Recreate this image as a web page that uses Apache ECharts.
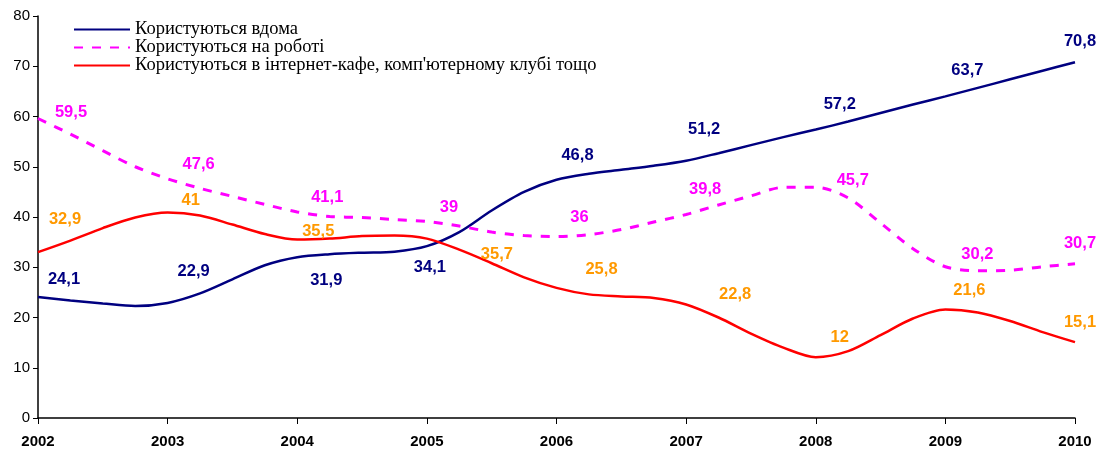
<!DOCTYPE html>
<html>
<head>
<meta charset="utf-8">
<script src="https://cdn.jsdelivr.net/npm/echarts@6/dist/echarts.min.js"></script>
<style>
  html, body { margin: 0; padding: 0; background: #fff; }
  #chart { width: 1097px; height: 450px; }
</style>
</head>
<body>
<div id="chart"></div>
<script>
// x positions of the points (quarters)
const quarters = [
  2002, 2002.25, 2002.5, 2002.75, 2003, 2003.25, 2003.5, 2003.75,
  2004, 2004.25, 2004.5, 2004.75, 2005, 2005.25, 2005.5, 2005.75,
  2006, 2006.25, 2006.5, 2006.75, 2007, 2007.25, 2007.5, 2007.75,
  2008, 2008.25, 2008.5, 2008.75, 2009, 2009.25, 2009.5, 2009.75, 2010
];
const homeUse = [
  24.1, 23.4, 22.8, 22.3, 22.9, 24.8, 27.6, 30.4,
  32.0, 32.6, 32.9, 33.1, 34.2, 37.0, 41.3, 45.0,
  47.4, 48.6, 49.4, 50.2, 51.2, 52.7, 54.3, 55.9,
  57.4, 59.0, 60.7, 62.4, 64.0, 65.7, 67.4, 69.1, 70.8
];
const workUse = [
  59.6, 56.5, 53.2, 50.0, 47.6, 45.7, 44.1, 42.5,
  41.0, 40.1, 39.9, 39.5, 39.1, 38.2, 37.0, 36.3,
  36.1, 36.5, 37.5, 39.0, 40.5, 42.4, 44.2, 45.9,
  45.9, 43.8, 38.8, 33.7, 30.1, 29.3, 29.4, 30.1, 30.7
];
const cafeUse = [
  33.0, 35.3, 37.8, 39.9, 40.9, 40.3, 38.5, 36.6,
  35.5, 35.7, 36.2, 36.3, 35.7, 33.5, 30.8, 28.0,
  25.9, 24.6, 24.2, 23.9, 22.6, 20.0, 16.8, 14.0,
  12.1, 13.3, 16.5, 19.8, 21.6, 21.0, 19.3, 17.1, 15.1
];

// value labels, one per year 2002..2010
const homeLabels = ['24,1', '22,9', '31,9', '34,1', '46,8', '51,2', '57,2', '63,7', '70,8'];
const workLabels = ['59,5', '47,6', '41,1', '39', '36', '39,8', '45,7', '30,2', '30,7'];
const cafeLabels = ['32,9', '41', '35,5', '35,7', '25,8', '22,8', '12', '21,6', '15,1'];

const seriesNames = [
  'Користуються вдома',
  'Користуються на роботі',
  'Користуються в інтернет-кафе, комп\'ютерному клубі тощо'
];

// label placement relative to the point (px)
const homeOffsets = [[26, -17], [26, -31], [29, 23], [3, 21], [21, -24], [18, -31], [24, -25], [22, -26], [5, -21]];
const workOffsets = [[33, -6], [31, -14], [30, -15], [22, -14], [23, -19], [19, -25], [37, -7], [32, -12], [5, -20]];
const cafeOffsets = [[27, -33], [23, -12], [21, -8], [70, 16], [45, -18], [49, -10], [24, -20], [24, -19], [5, -20]];

const font = '"Liberation Sans", Arial, sans-serif';

const buildData = (values, labels, offsets, color) =>
  quarters.map((q, i) => {
    const item = { value: [q, values[i]] };
    if (Number.isInteger(q)) {
      const k = q - 2002;
      item.label = {
        show: true,
        position: 'inside',
        formatter: labels[k],
        offset: offsets[k],
        color: color,
        fontFamily: font,
        fontWeight: 'bold',
        fontSize: 16.5
      };
    }
    return item;
  });

const lineSeries = (name, data, lineStyle) => ({
  name: name,
  type: 'line',
  smooth: 0.3,
  symbol: 'circle',
  symbolSize: 0,
  showSymbol: true,
  lineStyle: lineStyle,
  itemStyle: { color: lineStyle.color },
  emphasis: { disabled: true },
  data: data
});

const chart = echarts.init(document.getElementById('chart'));

const option = {
  animation: false,
  backgroundColor: '#fff',
  grid: { left: 38, right: 22, top: 16, bottom: 32 },
  legend: {
    left: 68,
    top: 15,
    orient: 'vertical',
    itemWidth: 56,
    itemHeight: 10,
    itemGap: -1,
    itemStyle: { opacity: 0 },
    textStyle: {
      fontFamily: '"Liberation Serif", "Times New Roman", serif',
      fontSize: 18.5,
      lineHeight: 18,
      color: '#000'
    },
    data: seriesNames
  },
  xAxis: {
    type: 'value',
    min: 2002,
    max: 2010,
    interval: 1,
    splitLine: { show: false },
    axisLine: { lineStyle: { color: '#000', width: 1.5 } },
    axisTick: { length: 6, lineStyle: { color: '#000' } },
    axisLabel: {
      formatter: v => String(v),
      color: '#000',
      fontFamily: font,
      fontWeight: 'bold',
      fontSize: 15,
      margin: 16
    }
  },
  yAxis: {
    type: 'value',
    min: 0,
    max: 80,
    interval: 10,
    splitLine: { show: false },
    axisLine: { show: true, lineStyle: { color: '#000', width: 1.5 } },
    axisTick: { show: true, length: 5, lineStyle: { color: '#000' } },
    axisLabel: {
      color: '#000',
      fontFamily: font,
      fontSize: 15,
      margin: 8
    }
  },
  series: [
    lineSeries(seriesNames[0], buildData(homeUse, homeLabels, homeOffsets, '#000080'),
      { color: '#000080', width: 2.5 }),
    lineSeries(seriesNames[1], buildData(workUse, workLabels, workOffsets, '#FF00FF'),
      { color: '#FF00FF', width: 3, type: [9, 9] }),
    lineSeries(seriesNames[2], buildData(cafeUse, cafeLabels, cafeOffsets, '#FF9900'),
      { color: '#FF0000', width: 2.5 })
  ]
};

chart.setOption(option);
</script>
</body>
</html>
